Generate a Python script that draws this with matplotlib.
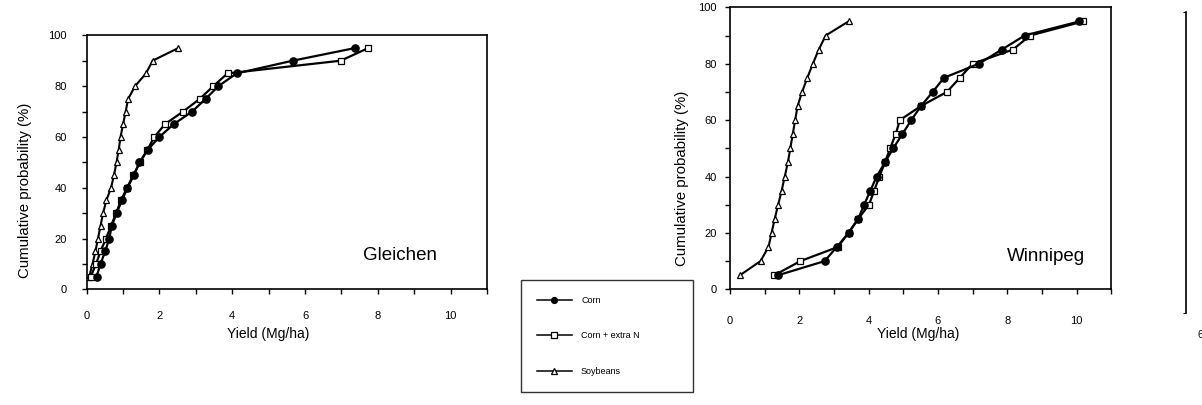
import matplotlib
matplotlib.use("Agg")
import matplotlib.pyplot as plt
from matplotlib.ticker import MultipleLocator

plt.rcParams["font.family"] = ["Liberation Sans", "DejaVu Sans"]

# Cumulative probability levels (%)
prob = [5, 10, 15, 20, 25, 30, 35, 40, 45, 50, 55, 60, 65, 70, 75, 80, 85, 90, 95]

# Gleichen yields (Mg/ha)
g_corn = [0.27, 0.38, 0.51, 0.62, 0.69, 0.82, 0.97, 1.12, 1.30, 1.45, 1.68,
          2.00, 2.39, 2.90, 3.27, 3.62, 4.12, 5.66, 7.38]
g_corn_n = [0.11, 0.26, 0.38, 0.53, 0.67, 0.81, 0.94, 1.11, 1.28, 1.47, 1.67,
            1.86, 2.15, 2.65, 3.11, 3.48, 3.87, 6.98, 7.74]
g_soy = [0.07, 0.16, 0.24, 0.31, 0.38, 0.45, 0.54, 0.67, 0.75, 0.82, 0.88,
         0.93, 1.00, 1.07, 1.14, 1.33, 1.63, 1.81, 2.52]

# Winnipeg yields (Mg/ha)
w_corn = [1.39, 2.73, 3.08, 3.42, 3.70, 3.87, 4.05, 4.23, 4.47, 4.71, 4.97,
          5.23, 5.51, 5.85, 6.17, 7.18, 7.84, 8.50, 10.08]
w_corn_n = [1.28, 2.03, 3.11, 3.42, 3.70, 4.01, 4.16, 4.31, 4.47, 4.62, 4.78,
            4.90, 5.51, 6.26, 6.63, 7.00, 8.16, 8.66, 10.19]
w_soy = [0.29, 0.88, 1.11, 1.20, 1.29, 1.39, 1.49, 1.58, 1.67, 1.74, 1.81,
         1.88, 1.95, 2.08, 2.23, 2.39, 2.56, 2.76, 3.42]

labels = ["Corn", "Corn + extra N", "Soybeans"]

W, H = 1202, 405
fig = plt.figure(figsize=(W / 100, H / 100), dpi=100)


def px_axes(x0, y0, x1, y1):
    # y measured from top of image
    return fig.add_axes([x0 / W, 1 - y1 / H, (x1 - x0) / W, (y1 - y0) / H])


def draw_panel(ax, corn, corn_n, soy, site, site_xy, xpad, ypad):
    ax.plot(soy, prob, color="black", lw=1.5, marker="^", ms=4.6,
            mfc="white", mec="black", mew=0.9, label=labels[2], zorder=3)
    ax.plot(corn_n, prob, color="black", lw=1.6, marker="s", ms=5,
            mfc="white", mec="black", mew=0.9, label=labels[1], zorder=4)
    ax.plot(corn, prob, color="black", lw=1.6, marker="o", ms=5.2,
            mfc="black", mec="black", label=labels[0], zorder=5)
    ax.set_xlim(0, 11)
    ax.set_ylim(0, 100)
    ax.xaxis.set_major_locator(MultipleLocator(2))
    ax.xaxis.set_minor_locator(MultipleLocator(1))
    ax.yaxis.set_major_locator(MultipleLocator(20))
    ax.yaxis.set_minor_locator(MultipleLocator(10))
    ax.set_xticks([0, 2, 4, 6, 8, 10])
    ax.tick_params(which="both", direction="out", length=3.5, width=1,
                   labelsize=8, top=False, right=False)
    ax.tick_params(axis="x", which="major", pad=xpad)
    ax.tick_params(axis="y", which="major", pad=ypad)
    for s in ax.spines.values():
        s.set_linewidth(1.2)
    ax.set_xlabel("Yield (Mg/ha)", fontsize=10)
    ax.set_ylabel("Cumulative probability (%)", fontsize=10.8)
    ax.text(site_xy[0], site_xy[1], site, fontsize=13.5, ha="left", va="center")


ax1 = px_axes(86.7, 35.3, 487, 289.3)
draw_panel(ax1, g_corn, g_corn_n, g_soy, "Gleichen", (7.58, 13.5), 12, 11)
ax1.xaxis.set_label_coords(0.453, -0.148)
ax1.yaxis.set_label_coords(-0.137, 0.39)

ax2 = px_axes(730, 7.3, 1111.3, 289.3)
draw_panel(ax2, w_corn, w_corn_n, w_soy, "Winnipeg", (7.98, 11.5), 16, 6)
ax2.xaxis.set_label_coords(0.493, -0.134)
ax2.yaxis.set_label_coords(-0.108, 0.392)

# legend box between the panels
h, l = ax1.get_legend_handles_labels()
order = [2, 1, 0]
leg = fig.legend([h[i] for i in order], [l[i] for i in order],
                 loc="upper left", bbox_to_anchor=(521 / W, 1 - 284 / H, 172 / W, 0.01),
                 mode="expand", fontsize=6.5, labelspacing=2.95, handlelength=3.9,
                 handletextpad=1.0, borderpad=1.75, borderaxespad=0,
                 fancybox=False, frameon=True, markerscale=0.8)
leg.get_frame().set_edgecolor("black")
leg.get_frame().set_linewidth(1.0)
for line in leg.get_lines():
    line.set_linewidth(1.1)

# partial third panel cut off at the right edge
ax3 = px_axes(1185.7, 12, 1800, 313)
ax3.set_xlim(0, 1)
ax3.set_ylim(0, 100)
ax3.set_yticks([0, 100])
ax3.set_xticks([])
ax3.tick_params(axis="y", length=2, labelleft=False)
for k in ["top", "right", "bottom"]:
    ax3.spines[k].set_visible(False)
ax3.spines["left"].set_linewidth(1.2)
ax3.patch.set_alpha(0)
fig.text(1197.5 / W, 1 - 335 / H, "6", fontsize=7.5, ha="left", va="center")

fig.savefig("out.png", dpi=100)
